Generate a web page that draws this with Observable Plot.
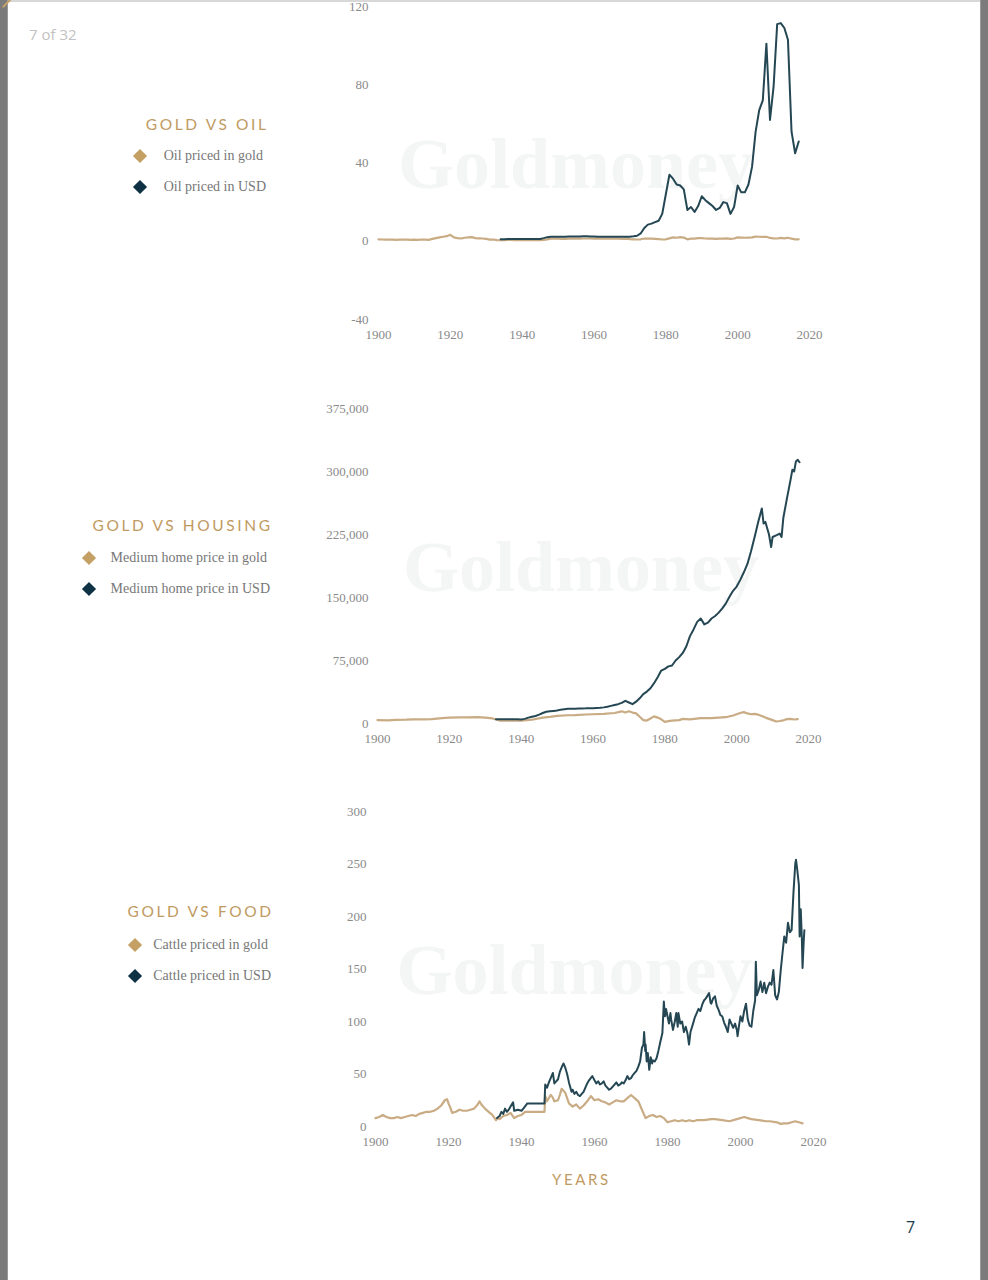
<!DOCTYPE html>
<html>
<head>
<meta charset="utf-8">
<script src="https://cdn.jsdelivr.net/npm/d3@7"></script>
<script src="https://cdn.jsdelivr.net/npm/@observablehq/plot@0.6"></script>
<style>
  html, body { margin: 0; padding: 0; background: #fff; }
  #page { position: relative; width: 988px; height: 1280px; background: #fff; overflow: hidden; }
  .bar-l { position: absolute; left: 0; top: 0; width: 7px; height: 1280px; background: #7b7b7b; border-right: 1px solid #9a9a9a; }
  .bar-r { position: absolute; left: 980px; top: 0; width: 8px; height: 1280px; background: #7b7b7b; border-left: 1px solid #9a9a9a; }
  .bar-t { position: absolute; left: 0; top: 0; width: 988px; height: 2px; background: #d8d8d8; }
  .corner { position: absolute; left: 6px; top: -3px; width: 2px; height: 12px; background: #c4a06a; transform: rotate(45deg); }
  .pager { position: absolute; left: 29px; top: 24px; font: 15px "Open Sans", sans-serif; color: #c2c2c2; }
  .pagenum { position: absolute; left: 906px; top: 1216px; font: 16px "Open Sans", sans-serif; color: #1b3a4b; }
  .years { position: absolute; left: 552px; top: 1170px; font: 15px Lato, sans-serif; letter-spacing: 2.6px; color: #bf9a62; }
  .title { position: absolute; font: 15.5px Lato, sans-serif; letter-spacing: 2.6px; color: #bf9a62; white-space: nowrap; text-align: right; }
  .legend { position: absolute; font: 14px "Liberation Serif", serif; color: #777; }
  .item { position: relative; height: 31px; line-height: 18px; white-space: nowrap; }
  .dia { position: absolute; width: 10px; height: 10px; transform: rotate(45deg); }
  .chart { position: absolute; }
</style>
</head>
<body>
<div id="page">
  <div class="bar-t"></div>
  <div class="bar-l"></div>
  <div class="bar-r"></div>
  <div class="corner"></div>
  <div class="pager">7 of 32</div>
  <div class="pagenum">7</div>
  <div class="years">YEARS</div>
</div>
<script>
// ---------- DATA ----------
const xTicks = [1900, 1920, 1940, 1960, 1980, 2000, 2020];

// Gold vs Oil
const oilTitle = "GOLD VS OIL";
const oilLabels = ["Oil priced in gold", "Oil priced in USD"];
const oilYTicks = [-40, 0, 40, 80, 120];
const oilGoldYears = d3.range(1900, 2018);
const oilGoldValues = [
  1.0, 0.9, 0.8, 0.9, 0.8, 0.7, 0.8, 0.9, 0.8, 0.7,
  0.8, 0.7, 0.9, 0.8, 0.7, 1.2, 1.6, 2.0, 2.3, 2.6,
  3.3, 2.0, 1.6, 1.4, 1.8, 2.0, 2.1, 1.6, 1.5, 1.4,
  1.2, 0.8, 0.9, 0.6, 0.5, 0.6, 0.7, 0.7, 0.6, 0.6,
  0.6, 0.6, 0.6, 0.6, 0.6, 0.6, 0.7, 1.0, 1.3, 1.3,
  1.3, 1.2, 1.2, 1.3, 1.3, 1.3, 1.3, 1.4, 1.4, 1.4,
  1.3, 1.3, 1.3, 1.3, 1.3, 1.3, 1.3, 1.3, 1.2, 1.3,
  1.1, 1.0, 0.9, 1.0, 1.4, 1.3, 1.3, 1.2, 1.1, 0.9,
  1.0, 1.5, 2.0, 1.8, 2.1, 1.9, 1.0, 1.3, 1.3, 1.6,
  1.6, 1.4, 1.3, 1.3, 1.2, 1.3, 1.3, 1.5, 1.2, 1.4,
  2.0, 1.9, 1.8, 1.9, 2.0, 2.4, 2.3, 2.2, 2.3, 1.7,
  1.5, 1.4, 1.7, 1.5, 1.8, 1.3, 1.0, 1.0
];
const oilUsdYears = d3.range(1934, 2018);
const oilUsdValues = [
  1.0, 1.0, 1.1, 1.2, 1.2, 1.1,
  1.1, 1.2, 1.2, 1.2, 1.2, 1.2, 1.6, 2.1, 2.3, 2.3,
  2.3, 2.3, 2.3, 2.4, 2.4, 2.4, 2.4, 2.5, 2.5, 2.4,
  2.4, 2.3, 2.3, 2.3, 2.3, 2.3, 2.3, 2.3, 2.3, 2.3,
  2.3, 2.5, 2.8, 4.0, 6.8, 8.5, 9.0, 9.8, 10.5, 14.0,
  24.0, 34.0, 32.0, 29.0, 28.5, 26.5, 16.0, 17.5, 15.0, 18.0,
  23.0, 21.0, 19.5, 18.0, 16.0, 17.0, 20.0, 19.5, 14.0, 17.5,
  28.5, 25.0, 25.0, 29.0, 38.0, 56.0, 67.0, 72.0, 101.0, 62.0,
  79.0, 111.0, 111.5, 109.0, 103.0, 56.0, 45.0, 51.0
];

// Gold vs Housing
const houseTitle = "GOLD VS HOUSING";
const houseLabels = ["Medium home price in gold", "Medium home price in USD"];
const houseYTicks = [0, 75000, 150000, 225000, 300000, 375000];
const houseGoldYears = [1900, 1903, 1905, 1908, 1910, 1913, 1915, 1918, 1920, 1923, 1925, 1928, 1930, 1932, 1934, 1937, 1940, 1943, 1946, 1948, 1950, 1953, 1955, 1958, 1960, 1963, 1966, 1968, 1969, 1970, 1971, 1972, 1973, 1974, 1975, 1976, 1977, 1978, 1979, 1980, 1981, 1982, 1984, 1985, 1987, 1990, 1993, 1995, 1997, 1999, 2000, 2001, 2002, 2003, 2004, 2005, 2006, 2007, 2008, 2009, 2010, 2011, 2012, 2013, 2014, 2015, 2016, 2017];
const houseGoldValues = [4000, 3700, 4200, 4500, 5000, 4800, 5200, 6500, 7000, 7300, 7200, 7500, 7000, 6000, 3500, 3500, 3300, 4500, 7000, 7800, 9000, 9800, 10000, 10700, 11000, 11500, 12500, 14500, 13000, 14500, 13000, 12000, 8000, 4000, 3500, 6000, 8500, 7000, 5000, 2000, 2800, 3500, 4000, 5500, 5000, 6500, 6500, 7000, 7500, 9500, 11000, 12500, 13500, 12000, 11000, 11500, 10500, 9000, 7000, 5500, 4000, 2400, 3000, 3800, 5200, 5400, 4800, 5300];
const houseUsdYears = [1933, 1934, 1935, 1936, 1937, 1938, 1939, 1940, 1941, 1942, 1943, 1944, 1945, 1946, 1947, 1948, 1949, 1950, 1951, 1952, 1953, 1954, 1955, 1956, 1957, 1958, 1959, 1960, 1961, 1962, 1963, 1964, 1965, 1966, 1967, 1968, 1969, 1970, 1971, 1972, 1973, 1974, 1975, 1976, 1977, 1978, 1979, 1980, 1981, 1982, 1983, 1984, 1985, 1986, 1987, 1988, 1989, 1990, 1991, 1992, 1993, 1994, 1995, 1996, 1997, 1998, 1999, 2000, 2001, 2002, 2003, 2004, 2005, 2006, 2007, 2007.5, 2008, 2009, 2009.6, 2010, 2011, 2012, 2012.5, 2013, 2014, 2015, 2015.5, 2016, 2016.5, 2017, 2017.5];
const houseUsdValues = [5200, 5000, 5000, 5000, 5200, 5000, 5000, 4800, 5500, 7000, 8000, 9000, 10500, 12500, 14000, 14500, 15000, 15500, 16500, 17000, 17500, 17500, 17600, 17800, 18000, 18100, 18300, 18300, 18500, 18700, 19200, 20000, 21000, 22000, 23000, 24500, 27000, 25000, 23000, 26000, 30000, 35000, 38000, 42000, 48000, 55000, 63000, 65000, 68000, 69000, 75000, 79000, 84000, 92000, 104000, 112000, 121000, 125000, 118000, 120000, 125000, 128000, 132000, 137000, 143000, 151000, 158000, 163000, 171000, 180000, 190000, 205000, 222000, 240000, 256000, 238000, 240000, 225000, 210000, 222000, 224000, 226000, 222000, 245000, 268000, 290000, 302000, 300000, 312000, 314000, 311000];

// Gold vs Food
const foodTitle = "GOLD VS FOOD";
const foodLabels = ["Cattle priced in gold", "Cattle priced in USD"];
const foodYTicks = [0, 50, 100, 150, 200, 250, 300];
const cattleGoldYears = [1900, 1901, 1902, 1903, 1904, 1905, 1906, 1907, 1908, 1909, 1910, 1911, 1912, 1913, 1914, 1915, 1916, 1917, 1918, 1919, 1919.6, 1920, 1920.5, 1921, 1922, 1923, 1924, 1925, 1926, 1927, 1928, 1928.5, 1929, 1930, 1931, 1932, 1933, 1933.5, 1934, 1935, 1936, 1937, 1938, 1939, 1940, 1941, 1946.3, 1946.5, 1947, 1948, 1948.5, 1949, 1950, 1950.5, 1951, 1951.5, 1952, 1953, 1954, 1955, 1956, 1957, 1958, 1959, 1960, 1961, 1962, 1963, 1964, 1965, 1966, 1967, 1968, 1969, 1970, 1971, 1972, 1973, 1974, 1975, 1976, 1977, 1978, 1979, 1980, 1981, 1982, 1983, 1984, 1985, 1986, 1987, 1988, 1990, 1992, 1993, 1995, 1997, 1999, 2001, 2002, 2003, 2005, 2007, 2008, 2010, 2011, 2012, 2013, 2014, 2015, 2016, 2017];
const cattleGoldValues = [8, 9, 11, 9, 8, 8, 9, 8, 9, 10, 11, 10, 12, 13, 14, 14, 15, 17, 20, 25, 26, 22, 18, 13, 14, 16, 15, 15, 16, 17, 21, 24, 21, 17, 14, 11, 6, 8, 7, 10, 11, 13, 8, 10, 11, 14, 14, 29, 24, 30, 28, 24, 25, 30, 36, 34, 32, 22, 19, 21, 17, 20, 24, 29, 25, 26, 24, 23, 21, 23, 25, 24, 24, 27, 30, 27, 24, 16, 8, 10, 11, 9, 10, 8, 4, 5, 6, 5, 6, 5, 6, 5, 6, 6, 7, 7, 6, 5, 7, 9, 8, 7, 6, 5, 5, 4, 2.5, 3, 3, 4, 5, 4, 3];
const cattleUsdYears = [1933.3, 1934, 1934.5, 1935, 1935.5, 1936, 1936.5, 1937, 1937.7, 1938, 1939, 1940, 1940.5, 1941.6, 1946.3, 1946.5, 1947, 1947.5, 1948, 1948.6, 1949, 1949.5, 1950, 1950.5, 1951.2, 1951.5, 1952, 1952.5, 1953, 1953.7, 1954, 1954.5, 1955, 1955.5, 1956, 1956.5, 1957, 1957.5, 1958, 1958.5, 1959.4, 1960, 1960.5, 1961, 1961.5, 1962, 1962.5, 1963, 1963.5, 1964, 1964.5, 1965, 1966, 1966.5, 1967, 1967.5, 1968, 1968.5, 1969, 1969.5, 1970, 1970.5, 1971, 1971.5, 1972, 1972.5, 1973, 1973.4, 1973.6, 1973.9, 1974, 1974.3, 1974.6, 1975, 1975.4, 1975.8, 1976, 1976.5, 1977, 1977.5, 1978, 1978.6, 1979, 1979.3, 1979.6, 1980, 1980.4, 1980.8, 1981, 1981.5, 1982, 1982.4, 1982.8, 1983, 1983.5, 1984, 1984.5, 1985, 1985.5, 1985.9, 1986.3, 1987, 1987.5, 1988, 1988.5, 1989, 1989.5, 1990, 1990.5, 1991.4, 1991.8, 1992, 1992.5, 1993, 1993.5, 1994, 1994.5, 1995, 1995.5, 1996, 1996.5, 1997, 1997.5, 1998, 1998.5, 1999, 1999.2, 1999.6, 2000, 2000.5, 2001, 2001.5, 2002, 2002.5, 2003, 2003.5, 2004, 2004.2, 2004.5, 2005, 2005.5, 2006, 2006.5, 2007, 2007.5, 2008, 2008.5, 2009, 2009.5, 2010, 2010.5, 2011, 2011.5, 2012, 2012.5, 2013, 2013.5, 2014, 2014.5, 2015, 2015.2, 2015.5, 2016, 2016.2, 2016.5, 2016.8, 2017, 2017.3, 2017.5];
const cattleUsdValues = [8, 10, 14, 12, 17, 14, 16, 19, 23, 15, 16, 15, 17, 22, 22, 40, 37, 42, 46, 51, 41, 43, 45, 52, 58, 60, 56, 50, 42, 33, 35, 31, 33, 30, 29, 31, 33, 37, 41, 44, 48, 44, 41, 43, 40, 41, 43, 39, 37, 35, 36, 38, 42, 39, 40, 42, 41, 44, 48, 45, 46, 49, 51, 53, 57, 62, 75, 78, 90, 72, 78, 62, 70, 54, 66, 60, 63, 62, 65, 72, 80, 89, 119, 105, 112, 105, 98, 108, 102, 92, 100, 108, 95, 108, 98, 100, 90, 95, 88, 78, 90, 98, 104, 108, 112, 110, 116, 120, 122, 127, 118, 117, 122, 124, 115, 111, 106, 105, 99, 95, 90, 102, 98, 94, 98, 92, 86, 96, 105, 100, 110, 117, 102, 96, 95, 110, 120, 157, 125, 130, 138, 128, 137, 127, 133, 137, 135, 149, 125, 121, 128, 148, 165, 181, 175, 194, 185, 187, 222, 250, 254, 246, 230, 181, 207, 180, 151, 175, 187];

// ---------- STYLE ----------
const GOLD_LINE = "#c9ab84";
const NAVY_LINE = "#244753";
const GOLD_DIA = "#c4a064";
const NAVY_DIA = "#0e3244";
const commaFmt = d3.format(",");

const page = document.getElementById("page");

function addLegend(title, labels, titleTop, itemTop, rightEdge, diaLeft) {
  const t = document.createElement("div");
  t.className = "title";
  t.textContent = title;
  t.style.right = (988 - rightEdge - 2.6) + "px";
  t.style.top = titleTop + "px";
  page.appendChild(t);
  const lg = document.createElement("div");
  lg.className = "legend";
  lg.style.right = (988 - rightEdge) + "px";
  lg.style.top = itemTop + "px";
  [[labels[0], GOLD_DIA], [labels[1], NAVY_DIA]].forEach(([lab, col]) => {
    const it = document.createElement("div");
    it.className = "item";
    const d = document.createElement("div");
    d.className = "dia";
    d.style.background = col;
    d.style.left = diaLeft + "px";
    d.style.top = "4px";
    const s = document.createElement("span");
    s.textContent = lab;
    it.appendChild(d);
    it.appendChild(s);
    lg.appendChild(it);
  });
  page.appendChild(lg);
}

function addChart(opts) {
  const {left, top, width, height, mt, mb, ml, mr, yDomain, yTicks, yFormat, gold, usd, wmDx, tickPad} = opts;
  const chart = Plot.plot({
    width, height,
    marginTop: mt, marginBottom: mb, marginLeft: ml, marginRight: mr,
    style: {background: "transparent", color: "#8a8a8a", fontFamily: "'Liberation Serif', serif", fontSize: "13px", overflow: "visible"},
    x: {domain: [1900, 2020], ticks: xTicks, tickFormat: d => String(d), tickSize: 0, tickPadding: 10, label: null},
    y: {domain: yDomain, ticks: yTicks, tickFormat: yFormat, tickSize: 0, tickPadding: tickPad, label: null},
    marks: [
      Plot.text(["Goldmoney"], {text: d => d, frameAnchor: "middle", dx: wmDx, dy: 2, fontSize: 72, fontWeight: "bold", fontFamily: "'Liberation Serif', serif", fill: "#f4f5f5"}),
      Plot.line(gold[0], {x: gold[0], y: gold[1], stroke: GOLD_LINE, strokeWidth: 2.2, curve: "linear"}),
      Plot.line(usd[0], {x: usd[0], y: usd[1], stroke: NAVY_LINE, strokeWidth: 2, curve: "linear"})
    ]
  });
  chart.classList.add("chart");
  chart.style.left = left + "px";
  chart.style.top = top + "px";
  page.appendChild(chart);
}

// Chart 1: Oil
addChart({left: 300, top: 0, width: 530, height: 344, mt: 6, mb: 25, ml: 78, mr: 21,
  yDomain: [-40, 120], yTicks: oilYTicks, yFormat: d => String(d), tickPad: 10,
  gold: [oilGoldYears, oilGoldValues], usd: [oilUsdYears, oilUsdValues], wmDx: -18});

// Chart 2: Housing
addChart({left: 300, top: 390, width: 530, height: 358, mt: 18, mb: 25, ml: 77, mr: 22,
  yDomain: [0, 375000], yTicks: houseYTicks, yFormat: d => commaFmt(d), tickPad: 9,
  gold: [houseGoldYears, houseGoldValues], usd: [houseUsdYears, houseUsdValues], wmDx: -12});

// Chart 3: Food
addChart({left: 300, top: 790, width: 540, height: 361, mt: 21, mb: 25, ml: 75, mr: 27,
  yDomain: [0, 300], yTicks: foodYTicks, yFormat: d => String(d), tickPad: 9,
  gold: [cattleGoldYears, cattleGoldValues], usd: [cattleUsdYears, cattleUsdValues], wmDx: -20});

// Legends
addLegend(oilTitle, oilLabels, 115, 147, 266, -29);
addLegend(houseTitle, houseLabels, 516, 549, 270, -27);
addLegend(foodTitle, foodLabels, 902, 936, 271, -23);
</script>
</body>
</html>
